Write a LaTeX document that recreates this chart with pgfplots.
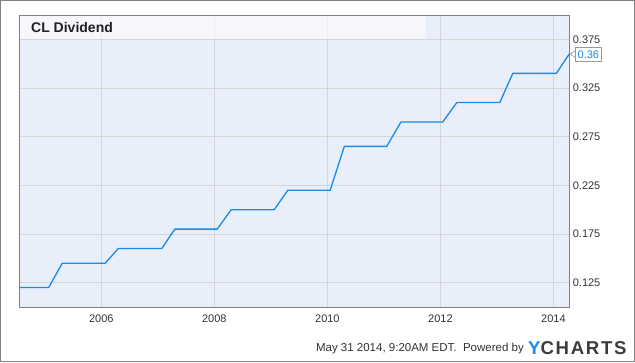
\documentclass[border=0pt]{standalone}
\usepackage{fontspec}
\setmainfont{Liberation Sans}
\newfontfamily\ychfont[LetterSpace=9]{Liberation Sans}
\usepackage{pgfplots}
\pgfplotsset{compat=1.18}
\definecolor{bgblue}{HTML}{E9EFFA}
\definecolor{linec}{HTML}{1B8AE8}
\definecolor{gridc}{HTML}{D6D6D6}
\definecolor{framec}{HTML}{808080}
\definecolor{txtc}{HTML}{333333}
\definecolor{logoc}{HTML}{3C3C3C}
\begin{document}
\begin{tikzpicture}[x=1pt,y=1pt]
\useasboundingbox (0,0) rectangle (635,362);
\draw[framec, line width=1.2pt] (0.6,0.6) rectangle (634.4,361.4);
\begin{axis}[
  at={(19.3pt,55pt)}, anchor=south west,
  scale only axis, width=550pt, height=292pt,
  xmin=2004.55, xmax=2014.28, ymin=0.1, ymax=0.4,
  axis background/.style={fill=bgblue},
  axis line style={framec, line width=0.8pt},
  grid=major, major grid style={gridc, line width=0.8pt},
  xtick={2006,2008,2010,2012,2014},
  xticklabels={2006,2008,2010,2012,2014},
  ytick={0.125,0.175,0.225,0.275,0.325,0.375},
  yticklabels={0.125,0.175,0.225,0.275,0.325,0.375},
  yticklabel pos=right,
  major tick length=0pt,
  tick label style={font=\fontsize{11}{13}\selectfont, text=txtc},
  x tick label style={yshift=-4pt},
  clip=false,
]
\fill[white, opacity=0.55] (axis cs:2004.56,0.3755) rectangle (axis cs:2011.75,0.3993);
\node[anchor=west, font=\bfseries\fontsize{14}{16}\selectfont, text=black!88, inner sep=0pt]
  at (rel axis cs:0,0.958) [xshift=11.7pt] {CL Dividend};
\addplot[linec, line width=1.3pt, line join=round] coordinates {
  (2004.55,0.12) (2005.07,0.12) (2005.31,0.145) (2006.07,0.145)
  (2006.30,0.16) (2007.07,0.16) (2007.30,0.18) (2008.05,0.18)
  (2008.30,0.20) (2009.06,0.20) (2009.30,0.22) (2010.05,0.22)
  (2010.30,0.265) (2011.05,0.265) (2011.30,0.29) (2012.04,0.29)
  (2012.29,0.31) (2013.05,0.31) (2013.28,0.34) (2014.05,0.34)
  (2014.28,0.36)
};
\node[anchor=west, draw=gray!80, fill=white, text=linec, font=\fontsize{11}{13}\selectfont,
  inner xsep=2.5pt, inner ysep=0pt, minimum height=14.5pt, line width=0.7pt]
  (lab) at (axis cs:2014.28,0.36) [xshift=5.5pt, yshift=-0.3pt] {0.36};
\draw[gray!80, line width=0.7pt, fill=white] ([yshift=3pt]lab.west) -- ([xshift=0.8pt]axis cs:2014.28,0.36) -- ([yshift=-3pt]lab.west);
\end{axis}
\node[anchor=east, font=\fontsize{11.5}{13}\selectfont, text=txtc, inner sep=0pt] at (524,13) {May 31 2014, 9:20AM EDT.\ \ Powered by};
\node[anchor=west, inner sep=0pt, font=\ychfont\bfseries\fontsize{18.6}{20}\selectfont] at (528,13.5) {\textcolor{linec}{Y}\textcolor{logoc}{CHARTS}};
\end{tikzpicture}
\end{document}
